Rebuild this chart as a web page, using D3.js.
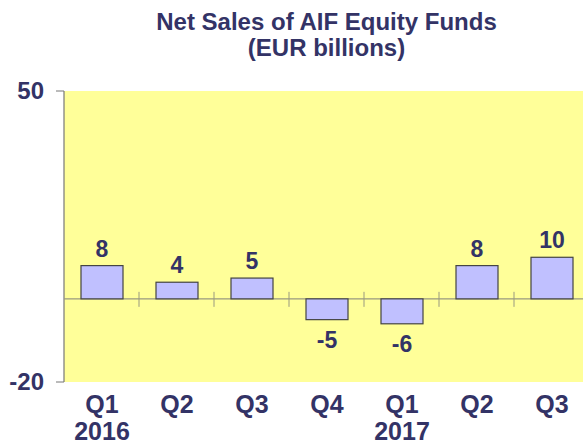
<!DOCTYPE html>
<html>
<head>
<meta charset="utf-8">
<script src="https://cdn.jsdelivr.net/npm/d3@7"></script>
<style>
  body { margin: 0; background: #fff; }
  text { font-family: "Liberation Sans", Arial, sans-serif; font-weight: bold; fill: #333366; }
</style>
</head>
<body>
<svg id="chart" width="583" height="444"></svg>
<script>
var quarters = ["Q1", "Q2", "Q3", "Q4", "Q1", "Q2", "Q3"];
var years = ["2016", "", "", "", "2017", "", ""];
var netSales = [8, 4, 5, -5, -6, 8, 10];
var yTicks = [50, -20];

const svg = d3.select("#chart");
const plotLeft = 64, plotTop = 91, plotBottom = 382, bandW = 75;
const plotRight = plotLeft + bandW * quarters.length;
const midX = (plotLeft + plotRight) / 2;

const x = d3.scaleBand().domain(d3.range(quarters.length)).range([plotLeft, plotRight]).paddingInner(0).paddingOuter(0);
const y = d3.scaleLinear().domain([-20, 50]).range([plotBottom, plotTop]);

// title
svg.append("text").attr("x", midX).attr("y", 30).attr("text-anchor", "middle")
  .style("font-size", "24px").text("Net Sales of AIF Equity Funds");
svg.append("text").attr("x", midX).attr("y", 56).attr("text-anchor", "middle")
  .style("font-size", "24px").text("(EUR billions)");

// plot background
svg.append("rect").attr("x", plotLeft).attr("y", plotTop).attr("width", plotRight - plotLeft)
  .attr("height", plotBottom - plotTop).attr("fill", "#ffff99");

// y axis
svg.append("line").attr("x1", plotLeft).attr("x2", plotLeft).attr("y1", plotTop).attr("y2", plotBottom)
  .attr("stroke", "#777").attr("stroke-width", 1.2);
svg.selectAll(".ytick").data(yTicks).enter().append("line")
  .attr("x1", plotLeft - 8).attr("x2", plotLeft).attr("y1", (d) => y(d)).attr("y2", (d) => y(d))
  .attr("stroke", "#777");
svg.selectAll(".ylab").data(yTicks).enter().append("text")
  .attr("x", 44).attr("y", (d) => y(d) + 8).attr("text-anchor", "end")
  .style("font-size", "24px").text((d) => d);

// zero line and category ticks
svg.append("line").attr("x1", plotLeft).attr("x2", plotRight).attr("y1", y(0)).attr("y2", y(0))
  .attr("stroke", "#999980").attr("stroke-width", 1.2);
svg.selectAll(".xtick").data(d3.range(1, quarters.length)).enter().append("line")
  .attr("x1", (d) => x(d)).attr("x2", (d) => x(d))
  .attr("y1", y(0) - 7).attr("y2", y(0) + 8).attr("stroke", "#999980");

// bars
svg.selectAll(".bar").data(netSales).enter().append("rect")
  .attr("x", (d, i) => x(i) + 17).attr("width", 42)
  .attr("y", (d) => y(Math.max(0, d)))
  .attr("height", (d) => Math.abs(y(d) - y(0)))
  .attr("fill", "#c0c0ff").attr("stroke", "#444").attr("stroke-width", 1.2);

// value labels
svg.selectAll(".val").data(netSales).enter().append("text")
  .attr("x", (d, i) => x(i) + 38)
  .attr("y", (d) => d >= 0 ? y(d) - 9 : y(d) + 28)
  .attr("text-anchor", "middle").style("font-size", "23px").text((d) => d);

// category labels
svg.selectAll(".qlab").data(quarters).enter().append("text")
  .attr("x", (d, i) => x(i) + 38).attr("y", 413)
  .attr("text-anchor", "middle").style("font-size", "25px").text((d) => d);
svg.selectAll(".yrlab").data(years).enter().append("text")
  .attr("x", (d, i) => x(i) + 38).attr("y", 440)
  .attr("text-anchor", "middle").style("font-size", "25px").text((d) => d);
</script>
</body>
</html>
